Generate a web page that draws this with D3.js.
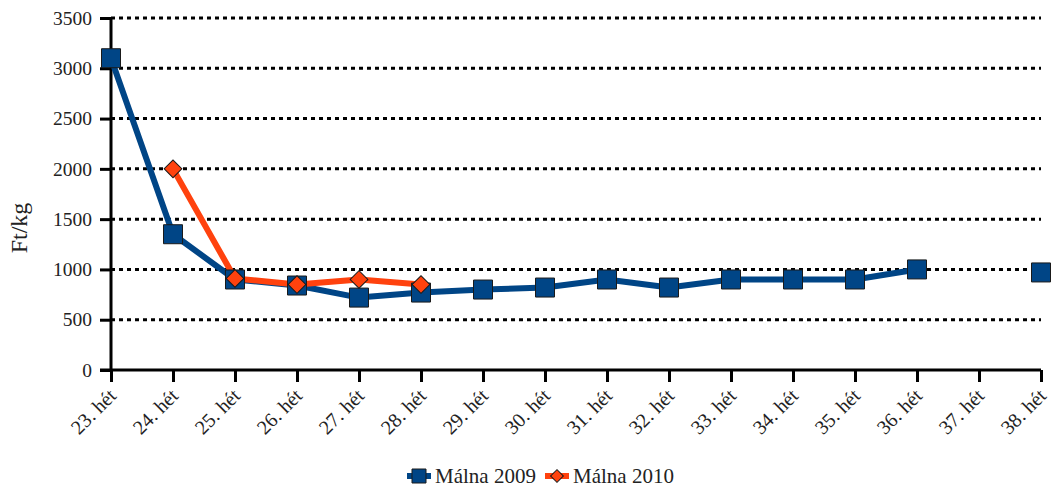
<!DOCTYPE html>
<html>
<head>
<meta charset="utf-8">
<script src="https://cdn.jsdelivr.net/npm/d3@7"></script>
<style>
  body { margin: 0; background: #fff; }
  text { font-family: "Liberation Serif", "DejaVu Serif", serif; fill: #222; }
</style>
</head>
<body>
<svg id="chart" width="1051" height="488"></svg>
<script>
const weeks = ['23. hét', '24. hét', '25. hét', '26. hét', '27. hét', '28. hét', '29. hét', '30. hét',
    '31. hét', '32. hét', '33. hét', '34. hét', '35. hét', '36. hét', '37. hét', '38. hét'];
const malna2009 = [3100, 1350, 900, 840, 720, 770, 800, 820, 900, 820, 900, 900, 900, 1000, null, 970];
const malna2010 = [null, 2000, 910, 850, 900, 850, null, null, null, null, null, null, null, null, null, null];
const yTicks = [0, 500, 1000, 1500, 2000, 2500, 3000, 3500];

const seriesList = [
    { name: 'Málna 2009', values: malna2009, color: '#004586', marker: 'square' },
    { name: 'Málna 2010', values: malna2010, color: '#ff420e', marker: 'diamond' }
];

const svg = d3.select('#chart');
const x = d3.scalePoint().domain(weeks).range([111, 1041]);
const y = d3.scaleLinear().domain([0, 3500]).range([370, 18]);

// dotted gridlines
svg.append('g')
    .selectAll('line')
    .data(yTicks.filter(d => d > 0))
    .join('line')
    .attr('x1', x.range()[0])
    .attr('x2', x.range()[1])
    .attr('y1', d => y(d))
    .attr('y2', d => y(d))
    .attr('stroke', '#000')
    .attr('stroke-width', 3)
    .attr('stroke-dasharray', '4,4');

// y axis
const yAxis = svg.append('g')
    .attr('transform', `translate(${x.range()[0]},0)`)
    .call(d3.axisLeft(y).tickValues(yTicks).tickFormat(d3.format('d')).tickSize(11).tickPadding(8));
yAxis.select('.domain').attr('stroke-width', 3).attr('d', `M0,${y(3500)}V${y(0)}`);
yAxis.selectAll('.tick line').attr('stroke-width', 3);
yAxis.selectAll('.tick text').attr('font-size', 19.5).attr('fill', '#222');

// x axis
const xAxis = svg.append('g')
    .attr('transform', `translate(0,${y(0)})`)
    .call(d3.axisBottom(x).tickSize(12).tickSizeOuter(0));
xAxis.select('.domain').attr('stroke-width', 3).attr('d', `M${x.range()[0] - 11},0H${x.range()[1]}`);
xAxis.selectAll('.tick line').attr('stroke-width', 3);
xAxis.selectAll('.tick text')
    .attr('font-size', 20)
    .attr('fill', '#222')
    .attr('text-anchor', 'end')
    .attr('dy', null)
    .attr('y', 0)
    .attr('transform', 'translate(6,27) rotate(-45)');

// y title
svg.append('text')
    .attr('transform', 'translate(27,228) rotate(-90)')
    .attr('text-anchor', 'middle')
    .attr('font-size', 24)
    .text('Ft/kg');

const symbols = {
    square: d3.symbol().type(d3.symbolSquare).size(19 * 19),
    diamond: d3.symbol().type(d3.symbolSquare).size(12.5 * 12.5)
};

seriesList.forEach(s => {
    const line = d3.line()
        .defined(d => d != null)
        .x((d, i) => x(weeks[i]))
        .y(d => y(d));
    svg.append('path')
        .datum(s.values)
        .attr('fill', 'none')
        .attr('stroke', s.color)
        .attr('stroke-width', 6)
        .attr('stroke-linejoin', 'round')
        .attr('d', line);
});

seriesList.forEach(s => {
    svg.append('g')
        .selectAll('path')
        .data(s.values.map((v, i) => ({ v, w: weeks[i] })).filter(d => d.v != null))
        .join('path')
        .attr('d', symbols[s.marker])
        .attr('transform', d => `translate(${x(d.w)},${y(d.v)})` + (s.marker === 'diamond' ? ' rotate(45)' : ''))
        .attr('fill', s.color)
        .attr('stroke', '#1a1a1a')
        .attr('stroke-width', 1);
});

// legend
const legendX = [407, 545];
seriesList.forEach((s, i) => {
    const g = svg.append('g').attr('transform', `translate(${legendX[i]},476)`);
    g.append('line')
        .attr('x1', 0).attr('x2', 24)
        .attr('stroke', s.color).attr('stroke-width', 6);
    g.append('path')
        .attr('d', s.marker === 'square'
            ? d3.symbol().type(d3.symbolSquare).size(14 * 14)()
            : d3.symbol().type(d3.symbolSquare).size(9 * 9)())
        .attr('transform', 'translate(12,0)' + (s.marker === 'diamond' ? ' rotate(45)' : ''))
        .attr('fill', s.color)
        .attr('stroke', '#1a1a1a')
        .attr('stroke-width', 1);
    g.append('text')
        .attr('x', 28)
        .attr('dy', '0.35em')
        .attr('font-size', 21)
        .text(s.name);
});
</script>
</body>
</html>
